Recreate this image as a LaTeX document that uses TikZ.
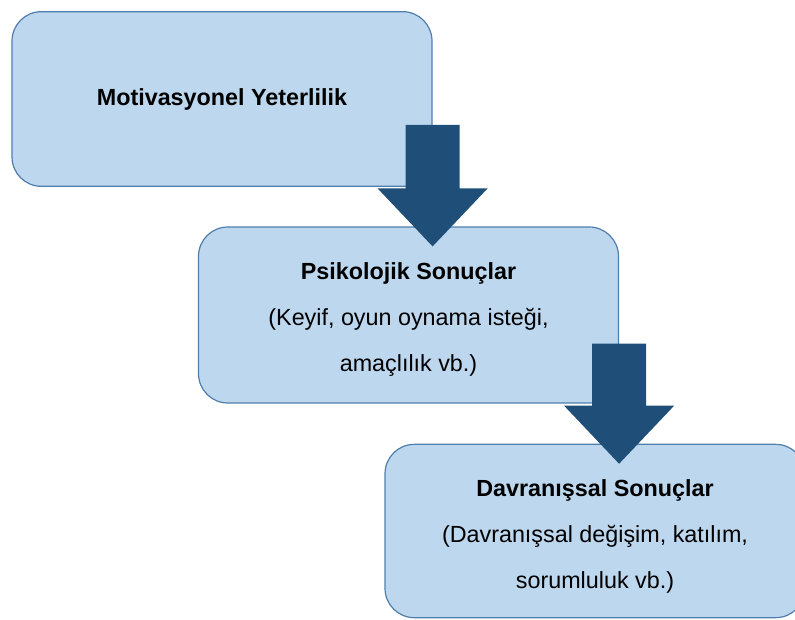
\documentclass[tikz,border=0pt]{standalone}
\usepackage{fontspec}
\setmainfont{Liberation Sans}
\usetikzlibrary{calc}

\definecolor{boxfill}{RGB}{189,215,238}
\definecolor{boxline}{RGB}{80,126,172}
\definecolor{arrowblue}{RGB}{31,78,121}

% block arrow pointing down: #1 = top of shaft, #2 = tip
\newcommand{\blockarrow}[2]{%
  \fill[arrowblue] ($(#1)+(-27,0)$) -- ($(#1)+(27,0)$) -- ($(#2)+(27,58)$)
    -- ($(#2)+(55,58)$) -- (#2) -- ($(#2)+(-55,58)$) -- ($(#2)+(-27,58)$) -- cycle;}

\begin{document}
\begin{tikzpicture}[
    x=0.75pt, y=0.75pt,
    stage/.style={draw=boxline, line width=0.9pt, fill=boxfill, rounded corners=22pt,
        minimum width=315pt, minimum height=131pt, align=center,
        font=\fontsize{17.5}{34.5}\selectfont}
]
    \clip (0,0) rectangle (795,619);

    % --- Stages ---
    \node[stage] (mot) at (222, 520) {\textbf{Motivasyonel Yeterlilik}};
    \node[stage, minimum height=132pt, text height=89pt] (psy) at (408.5, 304)
        {\textbf{Psikolojik Sonuçlar}\\(Keyif, oyun oynama isteği,\\amaçlılık vb.)};
    \node[stage, minimum height=130pt, text height=90pt] (dav) at (595, 88)
        {\textbf{Davranışsal Sonuçlar}\\(Davranışsal değişim, katılım,\\sorumluluk vb.)};

    % --- Arrows between stages ---
    \coordinate (a1top) at ($(mot.south east)+(0,62)$);
    \coordinate (a1tip) at ($(mot.east |- psy.north)+(0,-20)$);
    \blockarrow{a1top}{a1tip}

    \coordinate (a2top) at ($(psy.south east)+(0,60)$);
    \coordinate (a2tip) at ($(psy.east |- dav.north)+(0,-20)$);
    \blockarrow{a2top}{a2tip}

\end{tikzpicture}
\end{document}
